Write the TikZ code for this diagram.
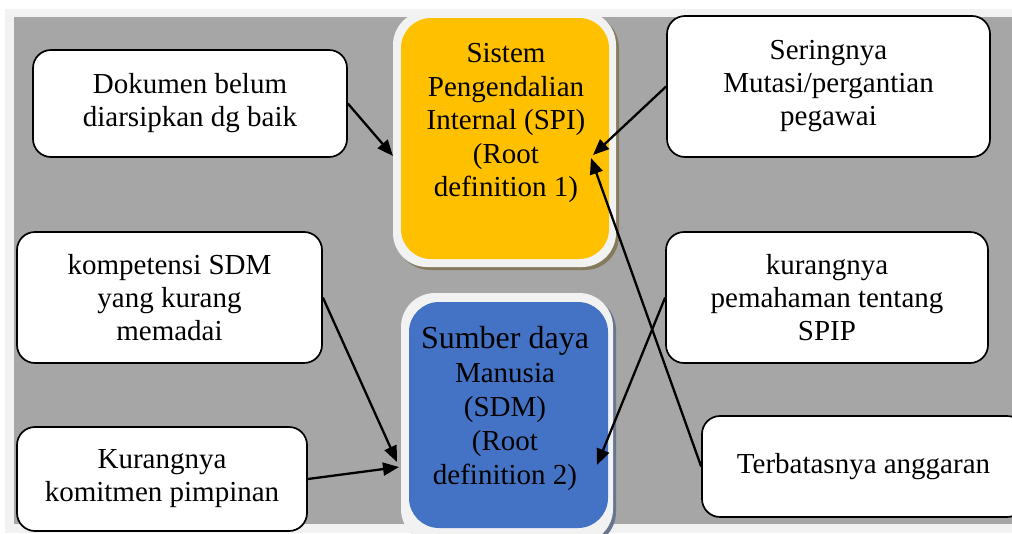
\documentclass[tikz,border=0pt]{standalone}
\usepackage{fontspec}
\setmainfont{Liberation Serif}
\usetikzlibrary{arrows.meta}
\definecolor{bgA}{HTML}{F2F2F2}
\definecolor{bgB}{HTML}{A6A6A6}
\definecolor{orng}{HTML}{FFC000}
\definecolor{blu}{HTML}{4472C4}
\definecolor{shadO}{HTML}{857A5C}
\definecolor{shadB}{HTML}{6A7590}
\begin{document}
\begin{tikzpicture}[x=1pt,y=-1pt,
  cause/.style={draw=black, line width=1.7pt, fill=white, rounded corners=18pt, inner sep=0pt, align=center, font=\fontsize{29}{33}\selectfont},
  frame/.style={fill=bgA, rounded corners=34pt, inner sep=0pt},
  core/.style={rounded corners=30pt, inner sep=0pt},
  lbl/.style={align=center, font=\fontsize{29}{33.5}\selectfont, inner sep=0pt},
  conn/.style={line width=2.3pt, -{Triangle[length=16pt,width=13pt]}},
]
\useasboundingbox (0,0) rectangle (1012,533);
\clip (0,0) rectangle (1012,533);
\fill[white] (0,0) rectangle (1012,533);
\fill[bgA] (5,9) rectangle (1012,533);
\fill[bgB] (14,17) rectangle (1012,524);

% shadows
\fill[shadO, rounded corners=34pt] (396,14) rectangle (619,270);
\fill[shadB, rounded corners=34pt] (404,296) rectangle (616,546);

% root definition boxes
\node[frame, minimum width=223pt, minimum height=256pt] (spi) at (504.5,139) {};
\node[core, fill=orng, minimum width=208pt, minimum height=241pt] (spic) at (505,138.5) {};
\node[lbl] (spit) at (506,123) {Sistem\\Pengendalian\\Internal (SPI)\\(Root\\definition 1)};

\node[frame, minimum width=212pt, minimum height=250pt] (sdm) at (507,418) {};
\node[core, fill=blu, minimum width=199pt, minimum height=226pt] (sdmc) at (508.5,415) {};
\node[lbl, font=\fontsize{29}{34}\selectfont] (sdmt) at (505,408) {{\fontsize{32}{34}\selectfont Sumber daya}\\Manusia\\(SDM)\\(Root\\definition 2)};

% cause boxes
\node[cause, minimum width=314pt, minimum height=107pt] (dok) at (190,103.5) {Dokumen belum\\diarsipkan dg baik};
\node[cause, minimum width=323pt, minimum height=141pt] (ser) at (828.5,86.5) {Seringnya\\Mutasi/pergantian\\pegawai};
\node[cause, minimum width=305pt, minimum height=131pt] (komp) at (169.5,297.5) {kompetensi SDM\\yang kurang\\memadai};
\node[cause, minimum width=322pt, minimum height=131pt] (kpem) at (827,297.5) {kurangnya\\pemahaman tentang\\SPIP};
\node[cause, minimum width=290pt, minimum height=104pt] (kom) at (162,479) {Kurangnya\\komitmen pimpinan};
\node[cause, minimum width=323pt, minimum height=101pt] (ter) at (863.5,466.5) {Terbatasnya anggaran};

% arrow end points
\coordinate (spiA) at (393,156);
\coordinate (spiB) at (593,155);
\coordinate (spiC) at (591,158);
\coordinate (sdmA) at (397,462);
\coordinate (sdmB) at (399,467);
\coordinate (sdmC) at (597,465);

\draw[conn] (dok.east) -- (spiA);
\draw[conn] (ser.west) -- (spiB);
\draw[conn] (ter.west) -- (spiC);
\draw[conn] (komp.east) -- (sdmA);
\draw[conn] (kom.east) -- (sdmB);
\draw[conn] (kpem.west) -- (sdmC);
\end{tikzpicture}
\end{document}
